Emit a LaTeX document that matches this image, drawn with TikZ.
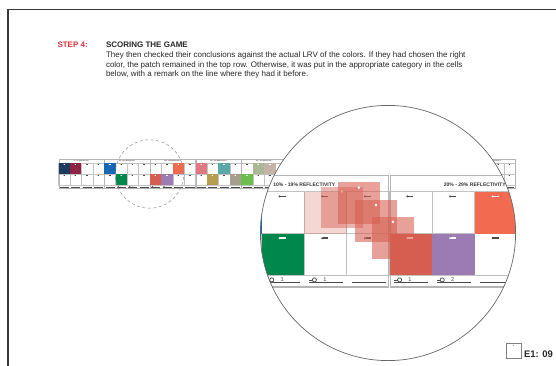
\documentclass[tikz,border=0pt]{standalone}
\usepackage{fontspec}
\setmainfont{Liberation Sans}

\definecolor{stepred}{HTML}{E0313F}
\definecolor{framegray}{HTML}{383838}
\definecolor{bodytext}{HTML}{262626}
\definecolor{cellgray}{HTML}{C2C2C2}
\definecolor{groupgray}{HTML}{B5B5B5}
\definecolor{markgray}{HTML}{4A4A4A}
\definecolor{cNavy}{HTML}{1F3A5E}
\definecolor{cCrimson}{HTML}{8E2344}
\definecolor{cBlue}{HTML}{1768B4}
\definecolor{cGreen}{HTML}{00874B}
\definecolor{cOrange}{HTML}{F26A4F}
\definecolor{cRed}{HTML}{D65E50}
\definecolor{cPurple}{HTML}{9B7BB1}
\definecolor{cPink}{HTML}{E07882}
\definecolor{cTeal}{HTML}{5BA8A9}
\definecolor{cOchre}{HTML}{B69E50}
\definecolor{cTaupe}{HTML}{A79F8D}
\definecolor{cSage}{HTML}{A9B897}
\definecolor{cBeige}{HTML}{C4B4A8}
\definecolor{cLime}{HTML}{6BBE4D}

% line-width factor: 1 for the small strip, the zoom factor inside the lens
\newcommand\lw{1}

\tikzset{
  every node/.style={inner sep=0pt, outer sep=0pt},
  bodyline/.style={anchor=base west, text=bodytext, font=\fontsize{8}{9.7}\selectfont},
  cellline/.style={draw=cellgray, line width=0.28pt*\lw},
  groupline/.style={draw=groupgray, line width=0.3pt*\lw},
  remarkline/.style={draw=markgray, line width=0.2pt*\lw},
  grouptitle/.style={text=black!80, font=\bfseries\fontsize{1.35}{1.6}\selectfont},
  remarknum/.style={text=markgray, font=\fontsize{1.5}{1.8}\selectfont},
  trail/.style={fill=cRed, fill opacity=0.58},
}

% small key mark printed at the top of every cell
\newcommand\celllabel[3]{%
  \fill[#3] ({#1+5.0},{#2+0.98}) rectangle ++(1.4,0.46);
  \fill[#3] ({#1+4.8},{#2+1.21}) circle[radius=0.3];
}

% coloured patch: group, row (0 top / 1 bottom), column, colour
\newcommand\patch[4]{%
  \pgfmathsetmacro\px{58.5+45.7*#1+11.425*#3}%
  \pgfmathsetmacro\py{163.0+11.2*#2}%
  \fill[#4] (\px,\py) rectangle ++(11.425,11.2);
  \celllabel{\px}{\py}{white}
}

% remark on the line below a bottom cell: group, column, count
\newcommand\remark[3]{%
  \pgfmathsetmacro\rx{58.5+45.7*#1+11.425*#2}%
  \draw[remarkline] (\rx+1.2,186.75) -- (\rx+2.15,186.75);
  \draw[remarkline] (\rx+2.7,186.6) circle[radius=0.55];
  \node[remarknum, anchor=base west] at (\rx+5.0,187.0) {#3};
}

% the row of reflectivity groups, from group #1 to group #2
\newcommand\drawstrip[2]{%
  \foreach \g in {#1,...,#2}{%
    \pgfmathsetmacro\gx{58.5+45.7*\g}%
    \foreach \c in {0,...,3}{%
      \pgfmathsetmacro\cx{\gx+11.425*\c}%
      \draw[cellline] (\cx,163.0) rectangle ++(11.425,11.2);
      \draw[cellline] (\cx,174.2) rectangle ++(11.425,11.2);
      \celllabel{\cx}{163.0}{markgray}
      \celllabel{\cx}{174.2}{markgray}
      \draw[remarkline] (\cx+1.3,187.2) -- (\cx+10.4,187.2);
    }
    \draw[groupline] (\gx+0.2,158.7) rectangle (\gx+45.5,188.5);
    \pgfmathtruncatemacro\lo{10*\g}%
    \pgfmathtruncatemacro\hi{10*\g+9}%
    \node[grouptitle] at (\gx+22.85,161.1) {\lo\% - \hi\% REFLECTIVITY};
  }
  \patch{0}{0}{0}{cNavy}\patch{0}{0}{1}{cCrimson}
  \patch{1}{0}{0}{cBlue}\patch{1}{1}{1}{cGreen}
  \patch{2}{0}{2}{cOrange}\patch{2}{1}{0}{cRed}\patch{2}{1}{1}{cPurple}
  \patch{3}{0}{0}{cPink}\patch{3}{0}{2}{cTeal}\patch{3}{1}{1}{cOchre}\patch{3}{1}{3}{cTaupe}
  \patch{4}{0}{1}{cSage}\patch{4}{0}{2}{cBeige}\patch{4}{1}{0}{cLime}
  \remark{1}{1}{1}\remark{1}{2}{1}\remark{2}{0}{1}\remark{2}{1}{2}
}

\begin{document}
\begin{tikzpicture}[x=1pt, y=-1pt]
  \useasboundingbox (0,0) rectangle (556,366);

  % page frame
  \draw[framegray, line width=1.1pt] (8,370) -- (8,9.3) -- (560,9.3);

  % heading and explanation
  \node[anchor=base west, text=stepred, font=\bfseries\fontsize{8}{9.7}\selectfont] (step) at (57.5,48) {STEP 4:};
  \node[anchor=base west, text=bodytext, font=\bfseries\fontsize{8}{9.7}\selectfont] (title) at (106,48) {SCORING THE GAME};
  \node[bodyline] (l1) at (106,57.4) {They then checked their conclusions against the actual LRV of the colors. If they had chosen the right};
  \node[bodyline] (l2) at (106,67.1) {color, the patch remained in the top row. Otherwise, it was put in the appropriate category in the cells};
  \node[bodyline] (l3) at (106,76.8) {below, with a remark on the line where they had it before.};

  % score strip
  \drawstrip{0}{9}

  % area picked out by the lens
  \draw[black!45, line width=0.5pt, dash pattern=on 3pt off 2.5pt] (149.5,174) circle[radius=34.2pt];

  % magnifying lens
  \begin{scope}
    \clip (388,233) circle[radius=127.6pt];
    \fill[white] (388,233) circle[radius=128pt];
    \begin{scope}[shift={(-169.6,-416.1)}, scale=3.73, transform shape]
      \renewcommand\lw{3.73}
      \drawstrip{1}{2}
    \end{scope}
    % path of the moved patch
    \fill[cRed, fill opacity=0.25] (304,191.9) rectangle ++(42.6,41.8);
    \fill[trail, fill opacity=0.45] (321,186.5) rectangle ++(41.8,41.8);
    \fill[white] (341.9,191.6) circle[radius=1.4pt];
    \fill[trail] (338,182.3) rectangle ++(41.8,41.8);
    \fill[white] (358.9,187.6) circle[radius=1.4pt];
    \fill[trail] (355,199.8) rectangle ++(41.8,41.8);
    \fill[white] (375.9,205.0) circle[radius=1.4pt];
    \fill[trail] (372,216.7) rectangle ++(41.8,41.8);
    \fill[white] (392.9,221.8) circle[radius=1.4pt];
  \end{scope}
  \draw[black!60, line width=0.7pt] (388,233) circle[radius=127.6pt];

  % page tag
  \draw[black!50, line width=0.6pt] (506,343) rectangle (521,358);
  \fill[black!50] (513.5,345.3) circle[radius=0.5pt];
  \node[anchor=base west, text=black!85, font=\bfseries\fontsize{9.5}{11}\selectfont] (tag) at (524,357) {E1: 09};
\end{tikzpicture}
\end{document}
